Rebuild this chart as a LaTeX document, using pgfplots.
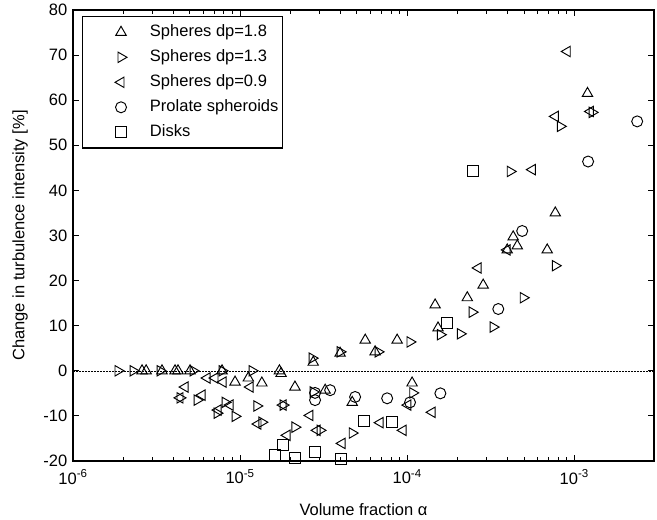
\documentclass[border=0pt]{standalone}
\usepackage{fontspec}
\setmainfont{Liberation Sans}
\usepackage{pgfplots}
\pgfplotsset{compat=1.18}

\newcommand{\chartfont}{\fontsize{16.5}{19}\selectfont}

\begin{document}
\chartfont
\begin{tikzpicture}
\useasboundingbox (-73pt,-59pt) rectangle (584pt,461pt);
\begin{axis}[
  at={(0pt,0pt)}, anchor=south west,
  scale only axis, width=581pt, height=451pt,
  xmode=log, xmin=1e-6, xmax=3e-3, ymin=-20, ymax=80,
  ytick={-20,-10,...,80},
  xtick={1e-6,1e-5,1e-4,1e-3},
  xticklabels={10\textsuperscript{-6},10\textsuperscript{-5},10\textsuperscript{-4},10\textsuperscript{-3}},
  tick align=inside,
  major tick length=6pt, minor tick length=4pt,
  axis line style={line width=1.3pt},
  every tick/.style={black, line width=0.8pt},
  /pgf/number format/assume math mode=true,
  tick label style={font=\chartfont},
  xticklabel style={yshift=-3pt},
  label style={font=\chartfont},
  xlabel={Volume fraction α},
  ylabel={Change in turbulence intensity [\%]},
  xlabel style={at={(axis description cs:0.5,-0.1086)}, anchor=center},
  ylabel style={at={(axis description cs:-0.0912,0.5)}, anchor=center},
  legend cell align=left,
  legend style={at={(axis description cs:0.0155,0.9867)}, anchor=north west,
    draw=black, line width=1.1pt, inner xsep=2pt, inner ysep=7pt,
    row sep=7.5pt, font=\chartfont,
    nodes={text height=12pt, text depth=3.5pt, inner ysep=1pt}},
  legend image code/.code={\path (0pt,0pt) (62.5pt,0pt); \draw[#1, only marks] plot coordinates {(36pt,0pt)};},
  every axis plot/.append style={only marks, black, line width=0.95pt},
]

% reference line at zero change
\addplot[forget plot, sharp plot, no marks, line width=0.5pt, dash pattern=on 2pt off 1pt]
  coordinates {(1e-6,0) (3e-3,0)};

% spheres dp = 1.8
\addplot[mark=triangle, mark size=6pt] coordinates {
 (2.59e-6,0) (2.74e-6,0) (3.41e-6,0) (4.08e-6,0) (4.25e-6,0) (5.02e-6,0) (7.80e-6,0)
 (9.33e-6,-2.5) (1.12e-5,-1.6) (1.35e-5,-2.7) (1.72e-5,0) (1.76e-5,-0.6) (2.13e-5,-3.6)
 (2.74e-5,1.9) (3.23e-5,-4.3) (3.97e-5,3.9) (4.69e-5,-7.0) (5.61e-5,6.8) (6.43e-5,4.2)
 (8.71e-5,6.8) (1.07e-4,-2.7) (1.53e-4,9.5) (1.47e-4,14.6) (2.29e-4,16.2) (2.85e-4,19.0)
 (3.97e-4,26.8) (4.31e-4,29.7) (4.56e-4,27.7) (6.89e-4,26.8) (7.70e-4,35.0) (1.20e-3,61.5)
};
\addlegendentry{Spheres dp=1.8}

% spheres dp = 1.3
\addplot[mark=triangle, mark size=6pt, mark options={rotate=-90}] coordinates {
 (1.86e-6,0) (2.29e-6,0) (3.32e-6,0) (5.23e-6,0) (7.80e-6,0) (1.18e-5,0)
 (4.37e-6,-6.0) (5.53e-6,-6.5) (7.28e-6,-9.4) (8.13e-6,-7.0) (9.33e-6,-10.1)
 (1.26e-5,-7.8) (1.35e-5,-11.4) (1.81e-5,-7.6) (2.13e-5,-12.5) (2.74e-5,-4.7)
 (3.01e-5,-13.2) (4.69e-5,-13.8) (2.70e-5,2.8) (3.97e-5,4.2) (6.70e-5,4.2)
 (1.04e-4,6.4) (1.08e-4,-4.9) (1.58e-4,8.0) (2.08e-4,8.2) (2.45e-4,13.0)
 (3.27e-4,9.7) (4.95e-4,16.2) (7.70e-4,23.3) (4.14e-4,44.2) (8.25e-4,54.2) (1.28e-3,57.3)
};
\addlegendentry{Spheres dp=1.3}

% spheres dp = 0.9
\addplot[mark=triangle, mark size=6pt, mark options={rotate=90}] coordinates {
 (4.69e-6,-3.6) (4.37e-6,-6.0) (5.92e-6,-5.4) (6.35e-6,-1.6) (7.08e-6,-1.6) (7.92e-6,-2.5)
 (7.38e-6,-8.7) (8.71e-6,-7.6) (1.15e-5,-3.6) (1.28e-5,-11.8) (1.81e-5,-7.6)
 (2.62e-5,-9.9) (1.91e-5,-14.3) (2.89e-5,-13.2) (4.08e-5,-16.1) (6.89e-5,-11.5)
 (9.46e-5,-13.2) (1.01e-4,-7.6) (1.41e-4,-9.2) (2.66e-4,22.8) (3.97e-4,26.8)
 (5.61e-4,44.6) (7.70e-4,56.4) (9.08e-4,70.8) (1.25e-3,57.5)
};
\addlegendentry{Spheres dp=0.9}

% prolate spheroids
\addplot[mark=o, mark size=5.5pt] coordinates {
 (2.81e-5,-4.9) (2.81e-5,-6.5) (3.46e-5,-4.3) (4.88e-5,-5.8) (7.59e-5,-6.1)
 (1.04e-4,-7.0) (1.58e-4,-5.0) (3.51e-4,13.7) (4.88e-4,31.0) (1.21e-3,46.4) (2.38e-3,55.3)
};
\addlegendentry{Prolate spheroids}

% disks
\addplot[mark=square, mark size=5.5pt] coordinates {
 (1.62e-5,-18.7) (1.81e-5,-16.4) (2.13e-5,-19.4) (2.81e-5,-18.1) (4.03e-5,-19.6)
 (5.53e-5,-11.2) (8.13e-5,-11.4) (1.74e-4,10.6) (2.48e-4,44.2)
};
\addlegendentry{Disks}

\end{axis}
\end{tikzpicture}
\end{document}
